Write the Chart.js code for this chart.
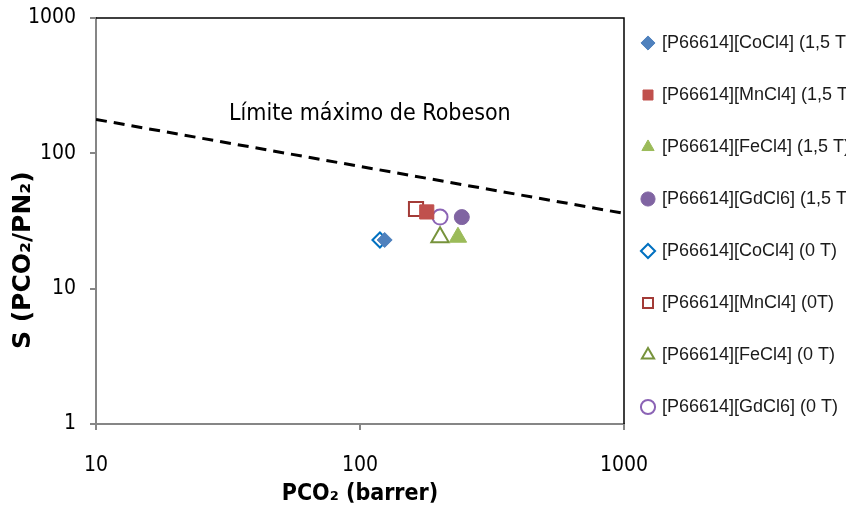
<!DOCTYPE html>
<html>
<head>
<meta charset="utf-8">
<script src="https://cdn.jsdelivr.net/npm/chart.js@4.4.0/dist/chart.umd.min.js"></script>
<style>
  html, body { margin: 0; padding: 0; background: #fff; overflow: hidden; }
  canvas { display: block; }
</style>
</head>
<body>
<canvas id="myChart" width="861" height="517"></canvas>
<script>
// Datos
const seriesNames = [
  "[P66614][CoCl4] (1,5 T)",
  "[P66614][MnCl4] (1,5 T)",
  "[P66614][FeCl4] (1,5 T)",
  "[P66614][GdCl6] (1,5 T)",
  "[P66614][CoCl4] (0 T)",
  "[P66614][MnCl4] (0T)",
  "[P66614][FeCl4] (0 T)",
  "[P66614][GdCl6] (0 T)"
];
const pco2 = [124, 179, 235, 243, 119, 163, 201, 201];
const selectivity = [22.9, 36.9, 24, 33.8, 22.9, 38.8, 24, 33.8];

// Limite de Robeson (dos extremos)
const robesonPco2 = [10, 1000];
const robesonS = [178, 36];

const xTicks = [10, 100, 1000];
const yTicks = [1, 10, 100, 1000];

const pointStyles = ["rectRot", "rect", "triangle", "circle", "rectRot", "rect", "triangle", "circle"];
const fillColors = ["#4F81BD", "#C0504D", "#9BBB59", "#8064A2", "rgba(0,0,0,0)", "rgba(0,0,0,0)", "rgba(0,0,0,0)", "rgba(0,0,0,0)"];
const lineColors = ["#4F81BD", "#C0504D", "#9BBB59", "#8064A2", "#0070C0", "#A33B37", "#77933C", "#8B63B5"];
const radios = [7.5, 10, 10, 7.5, 7.5, 10, 10, 7.5];

const tickFont = { family: "'DejaVu Sans Condensed', 'DejaVu Sans', sans-serif", size: 21 };

const datasets = seriesNames.map((name, i) => ({
  label: name,
  data: [{ x: pco2[i], y: selectivity[i] }],
  pointStyle: pointStyles[i],
  backgroundColor: fillColors[i],
  borderColor: lineColors[i],
  borderWidth: i < 4 ? 1 : 2,
  pointRadius: radios[i],
  showLine: false,
}));

datasets.push({
  type: "line",
  label: "Robeson",
  data: robesonPco2.map((x, i) => ({ x: x, y: robesonS[i] })),
  borderColor: "#000",
  borderWidth: 3,
  borderDash: [11, 7],
  pointRadius: 0,
  fill: false,
});

// Ajustes de marco, leyenda y texto del limite
const marcoPlugin = {
  id: "marco",
  beforeLayout(chart) {
    const lg = chart.legend;
    if (lg && !lg._anchoFijo) {
      const fit = lg.fit;
      lg.fit = function () {
        fit.call(this);
        this.width = 237;
      };
      lg._anchoFijo = true;
    }
  },
  afterLayout(chart) {
    const lg = chart.legend;
    lg.left -= 15;
    lg.right -= 15;
    lg.top -= 18;
    lg.bottom -= 18;
  },
  afterDatasetsDraw(chart) {
    const { ctx, chartArea: a, scales } = chart;
    ctx.save();
    ctx.strokeStyle = "#000";
    ctx.lineWidth = 1.5;
    ctx.beginPath();
    ctx.moveTo(a.left, a.top);
    ctx.lineTo(a.right, a.top);
    ctx.lineTo(a.right, a.bottom);
    ctx.stroke();
    ctx.fillStyle = "#000";
    ctx.font = "23px 'DejaVu Sans Condensed', 'DejaVu Sans', sans-serif";
    ctx.textAlign = "center";
    ctx.textBaseline = "middle";
    ctx.fillText("Límite máximo de Robeson", scales.x.getPixelForValue(109), scales.y.getPixelForValue(196));
    ctx.restore();
  },
};

const ctx = document.getElementById("myChart").getContext("2d");
const myChart = new Chart(ctx, {
  type: "scatter",
  data: { datasets: datasets },
  options: {
    responsive: false,
    animation: false,
    devicePixelRatio: 1,
    layout: { padding: { top: 18, right: 0, bottom: 0, left: 0 } },
    plugins: {
      tooltip: { enabled: false },
      legend: {
        position: "right",
        align: "start",
        labels: {
          filter: (item) => item.text !== "Robeson",
          usePointStyle: true,
          boxWidth: 10,
          boxHeight: 10,
          padding: 34,
          color: "#1a1a1a",
          font: { family: "'Liberation Sans', Arial, sans-serif", size: 18 },
        },
      },
    },
    scales: {
      x: {
        type: "logarithmic",
        min: 10,
        max: 1000,
        afterBuildTicks: (s) => { s.ticks = xTicks.map((v) => ({ value: v })); },
        afterFit: (s) => { s.height = 93; s.paddingLeft = 0; s.paddingRight = 0; },
        ticks: { callback: (v) => String(v), color: "#000", font: tickFont, padding: 23, maxRotation: 0 },
        grid: { drawOnChartArea: false, tickLength: 6, color: "#868686", lineWidth: 2 },
        border: { color: "#868686", width: 2 },
        title: {
          display: true, text: "PCO₂ (barrer)", color: "#000",
          font: { family: "'DejaVu Sans Condensed', 'DejaVu Sans', sans-serif", size: 23, weight: "bold" },
          padding: { top: 0, bottom: 9 },
        },
      },
      y: {
        type: "logarithmic",
        min: 1,
        max: 1000,
        afterBuildTicks: (s) => { s.ticks = yTicks.map((v) => ({ value: v })); },
        afterFit: (s) => { s.width = 96; s.paddingTop = 0; s.paddingBottom = 0; },
        ticks: { callback: (v) => String(v), color: "#000", font: tickFont, padding: 14 },
        grid: { drawOnChartArea: false, tickLength: 6, color: "#868686", lineWidth: 2 },
        border: { color: "#868686", width: 2 },
        title: {
          display: true, text: "S (PCO₂/PN₂)         ", color: "#000",
          font: { family: "'DejaVu Sans', sans-serif", size: 25, weight: "bold" },
          padding: { top: 8, bottom: 0 },
        },
      },
    },
  },
  plugins: [marcoPlugin],
});
</script>
</body>
</html>
